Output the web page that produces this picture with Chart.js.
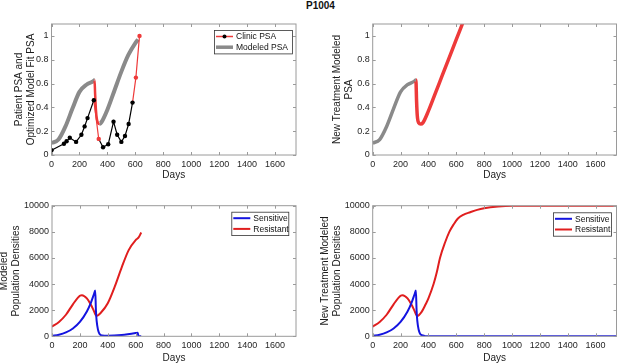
<!DOCTYPE html>
<html>
<head>
<meta charset="utf-8">
<script src="https://cdn.jsdelivr.net/npm/chart.js@4.4.1/dist/chart.umd.min.js"></script>
<style>
  body { margin: 0; background: #fff; width: 617px; height: 364px; overflow: hidden; position: relative; }
  canvas { position: absolute; }
  #title { position: absolute; left: 306px; top: 0px; font: bold 10px "Liberation Sans", Arial, sans-serif; color: #111; }
</style>
</head>
<body>
<div id="title">P1004</div>
<canvas id="psaFit"></canvas>
<canvas id="psaNew"></canvas>
<canvas id="popFit"></canvas>
<canvas id="popNew"></canvas>
<script>
const xTicks = [0, 200, 400, 600, 800, 1000, 1200, 1400, 1600];
const psaTicks = [0, 0.2, 0.4, 0.6, 0.8, 1];
const popTicks = [0, 2000, 4000, 6000, 8000, 10000];

// clinic measurements
const clinicDays = [0, 89, 108, 131, 176, 214, 237, 258, 303, 338, 369, 406, 444, 470, 500, 526, 552, 580, 604, 630];
const clinicPSA = [0.04, 0.095, 0.115, 0.145, 0.11, 0.17, 0.24, 0.31, 0.46, 0.135, 0.065, 0.09, 0.28, 0.17, 0.11, 0.16, 0.26, 0.44, 0.65, 1.0];
const clinicOffDays = [303, 338, 580, 604, 630];

// fitted model
const fitDays = [0, 50, 100, 150, 200, 250, 300, 308, 312, 318, 325, 335, 345, 360, 400, 450, 500, 550, 600, 620];
const fitPSA = [0.10, 0.13, 0.24, 0.39, 0.53, 0.59, 0.62, 0.63, 0.52, 0.38, 0.30, 0.265, 0.26, 0.28, 0.38, 0.54, 0.70, 0.84, 0.94, 0.97];
const fitDropFrom = 308, fitDropTo = 345;

// new treatment model
const newDays = [0, 50, 100, 150, 200, 250, 300, 310, 315, 320, 330, 345, 360, 400, 450, 500, 550, 600, 650];
const newPSA = [0.10, 0.13, 0.24, 0.39, 0.53, 0.59, 0.62, 0.63, 0.45, 0.33, 0.27, 0.26, 0.27, 0.37, 0.52, 0.67, 0.82, 0.97, 1.12];
const newSwitchDay = 310;

// population densities, fitted
const sensFitDays = [0, 50, 100, 150, 200, 250, 280, 300, 310, 315, 320, 330, 340, 360, 400, 500, 600, 615, 620, 640];
const sensFit = [30, 120, 300, 600, 1100, 1900, 2600, 3200, 3500, 2000, 1200, 500, 200, 60, 40, 100, 250, 280, 0, 0];
const resFitDays = [0, 50, 100, 150, 200, 215, 250, 280, 300, 320, 350, 400, 450, 500, 550, 600, 620, 640];
const resFit = [740, 1100, 1650, 2450, 3100, 3150, 2900, 2400, 1950, 1560, 1800, 2530, 3800, 5280, 6600, 7370, 7550, 7950];

// population densities, new treatment
const sensNewDays = [0, 50, 100, 150, 200, 250, 280, 300, 310, 315, 320, 330, 340, 360, 380, 400, 1750];
const sensNew = [30, 120, 300, 600, 1100, 1900, 2600, 3200, 3500, 2000, 1200, 500, 200, 60, 10, 0, 0];
const resNewDays = [0, 50, 100, 150, 200, 215, 250, 280, 300, 320, 350, 380, 400, 437, 460, 483, 520, 550, 580, 610, 650, 700, 750, 800, 900, 1000, 1200, 1750];
const resNew = [740, 1100, 1650, 2450, 3100, 3150, 2900, 2400, 1950, 1560, 1850, 2450, 2900, 4000, 4900, 6000, 7200, 8000, 8550, 9000, 9300, 9500, 9680, 9800, 9930, 9990, 10000, 10000];

const GRAY = "#8a8a8a", RED = "#ee3a3a", BLUE = "#1414e0", DRED = "#e01e1e";
const FONT = "'Liberation Sans', Arial, sans-serif";
Chart.defaults.font.family = FONT;
Chart.defaults.color = "#262626";

function pts(xs, ys) {
  return xs.map((x, i) => ({ x: x, y: ys[i] }));
}

const boxPlugin = {
  id: "box",
  afterDatasetsDraw(chart, args, opts) {
    const { ctx, chartArea: a, scales } = chart;
    ctx.save();
    ctx.strokeStyle = "#9a9a9a";
    ctx.lineWidth = 1;
    ctx.strokeRect(a.left, a.top, a.right - a.left, a.bottom - a.top);
    ctx.beginPath();
    scales.x.ticks.forEach(t => {
      const px = Math.round(scales.x.getPixelForValue(t.value)) + 0.5;
      ctx.moveTo(px, a.bottom); ctx.lineTo(px, a.bottom - 3);
      ctx.moveTo(px, a.top); ctx.lineTo(px, a.top + 3);
    });
    scales.y.ticks.forEach(t => {
      const py = Math.round(scales.y.getPixelForValue(t.value)) + 0.5;
      ctx.moveTo(a.left, py); ctx.lineTo(a.left + 3, py);
      ctx.moveTo(a.right, py); ctx.lineTo(a.right - 3, py);
    });
    ctx.stroke();
    if (opts.items) {
      ctx.font = "8.5px " + FONT;
      const w = opts.width, h = opts.items.length * 10.7 + 2;
      const x0 = a.right - opts.right - w, y0 = a.top + opts.top;
      ctx.fillStyle = "#fff";
      ctx.fillRect(x0, y0, w, h);
      ctx.strokeStyle = "#333";
      ctx.lineWidth = 0.8;
      ctx.strokeRect(x0 + 0.5, y0 + 0.5, w, h);
      opts.items.forEach((it, i) => {
        const yy = y0 + 6.5 + i * 10.7;
        ctx.strokeStyle = it.color;
        ctx.lineWidth = it.width;
        ctx.beginPath();
        ctx.moveTo(x0 + 2, yy); ctx.lineTo(x0 + 19, yy);
        ctx.stroke();
        if (it.dot) {
          ctx.fillStyle = it.dot;
          ctx.beginPath();
          ctx.arc(x0 + 10.5, yy, 2, 0, Math.PI * 2);
          ctx.fill();
        }
        ctx.fillStyle = "#111";
        ctx.textBaseline = "middle";
        ctx.fillText(it.label, x0 + 22, yy + 0.5);
      });
    }
    ctx.restore();
  }
};

function makeChart(id, box, area, yTitle, titlePad, yTicks, yMax, datasets, legend, daysPad) {
  const cv = document.getElementById(id);
  cv.width = box.w;
  cv.height = box.h;
  cv.style.left = box.x + "px";
  cv.style.top = box.y + "px";
  return new Chart(cv, {
    type: "line",
    data: { datasets: datasets },
    options: {
      responsive: false,
      animation: false,
      layout: { padding: { left: 0, top: area.top - box.y, right: box.x + box.w - area.right, bottom: 0 } },
      plugins: { legend: { display: false }, tooltip: { enabled: false }, box: legend || {} },
      elements: { point: { radius: 0 } },
      scales: {
        x: {
          type: "linear", min: 0, max: 1750,
          grid: { display: false, drawTicks: false },
          border: { display: false },
          afterBuildTicks: s => { s.ticks = xTicks.map(v => ({ value: v })); },
          afterFit: s => { s.height = box.y + box.h - area.bottom; },
          ticks: { padding: 4, autoSkip: false, maxRotation: 0, font: { size: 9 }, callback: v => String(v) },
          title: { display: true, text: "Days", font: { size: 10 }, color: "#1a1a1a", padding: { top: 0, bottom: daysPad } }
        },
        y: {
          type: "linear", min: 0, max: yMax,
          grid: { display: false, drawTicks: false },
          border: { display: false },
          afterBuildTicks: s => { s.ticks = yTicks.map(v => ({ value: v })); },
          afterFit: s => { s.width = area.left - box.x; },
          ticks: { padding: 3, font: { size: 9 }, callback: v => String(v) },
          title: { display: true, text: yTitle, font: { size: 10, lineHeight: 1.2 }, color: "#1a1a1a", padding: { top: titlePad, bottom: 0 } }
        }
      }
    },
    plugins: [boxPlugin]
  });
}

const isOff = d => clinicOffDays.includes(d);

makeChart("psaFit", { x: 0, y: 0, w: 306, h: 186 }, { left: 51.5, top: 24, right: 296, bottom: 155 },
  ["Patient PSA and", "Optimized Model Fit PSA"], 13, psaTicks, 1.1, [
    {
      data: pts(clinicDays, clinicPSA), borderColor: "#000", borderWidth: 1.2,
      pointRadius: 2.2, pointBorderWidth: 0,
      pointBackgroundColor: clinicDays.map(d => d === 338 || d === 604 || d === 630 ? RED : "#000"),
      segment: { borderColor: c => isOff(c.p0.parsed.x) && isOff(c.p1.parsed.x) ? RED : "#000" }
    },
    {
      data: pts(fitDays, fitPSA), borderColor: GRAY, borderWidth: 4, cubicInterpolationMode: "monotone",
      segment: {
        borderColor: c => c.p0.parsed.x >= fitDropFrom && c.p1.parsed.x <= fitDropTo ? RED : GRAY,
        borderWidth: c => c.p0.parsed.x >= fitDropFrom && c.p1.parsed.x <= fitDropTo ? 2.5 : 4
      }
    }
  ],
  { right: 4, top: 6, width: 78, items: [
    { label: "Clinic PSA", color: RED, width: 1.5, dot: "#000" },
    { label: "Modeled PSA", color: GRAY, width: 3.5 }
  ] }, 4.5);

makeChart("psaNew", { x: 306, y: 0, w: 311, h: 186 }, { left: 372.7, top: 24, right: 616.5, bottom: 155 },
  ["New Treatment Modeled", "PSA"], 25.7, psaTicks, 1.1, [
    {
      data: pts(newDays, newPSA), borderColor: GRAY, borderWidth: 3.5, cubicInterpolationMode: "monotone",
      segment: { borderColor: c => c.p0.parsed.x >= newSwitchDay ? RED : GRAY }
    }
  ], null, 4.5);

makeChart("popFit", { x: -4, y: 182, w: 310, h: 182 }, { left: 52, top: 205.7, right: 296, bottom: 336.3 },
  ["Modeled", "Population Densities"], 2, popTicks, 10000, [
    { data: pts(sensFitDays, sensFit), borderColor: BLUE, borderWidth: 2, cubicInterpolationMode: "monotone" },
    { data: pts(resFitDays, resFit), borderColor: DRED, borderWidth: 2, cubicInterpolationMode: "monotone" }
  ],
  { right: 7.7, top: 6, width: 57, items: [
    { label: "Sensitive", color: BLUE, width: 2 },
    { label: "Resistant", color: DRED, width: 2 }
  ] }, 0);

makeChart("popNew", { x: 306, y: 182, w: 311, h: 182 }, { left: 372.7, top: 205.7, right: 616.5, bottom: 336.3 },
  ["New Treatment Modeled", "Population Densities"], 13.3, popTicks, 10000, [
    { data: pts(sensNewDays, sensNew), borderColor: BLUE, borderWidth: 2, cubicInterpolationMode: "monotone" },
    { data: pts(resNewDays, resNew), borderColor: DRED, borderWidth: 2, cubicInterpolationMode: "monotone" }
  ],
  { right: 5.5, top: 6.6, width: 58, items: [
    { label: "Sensitive", color: BLUE, width: 2 },
    { label: "Resistant", color: DRED, width: 2 }
  ] }, 0);
</script>
</body>
</html>
